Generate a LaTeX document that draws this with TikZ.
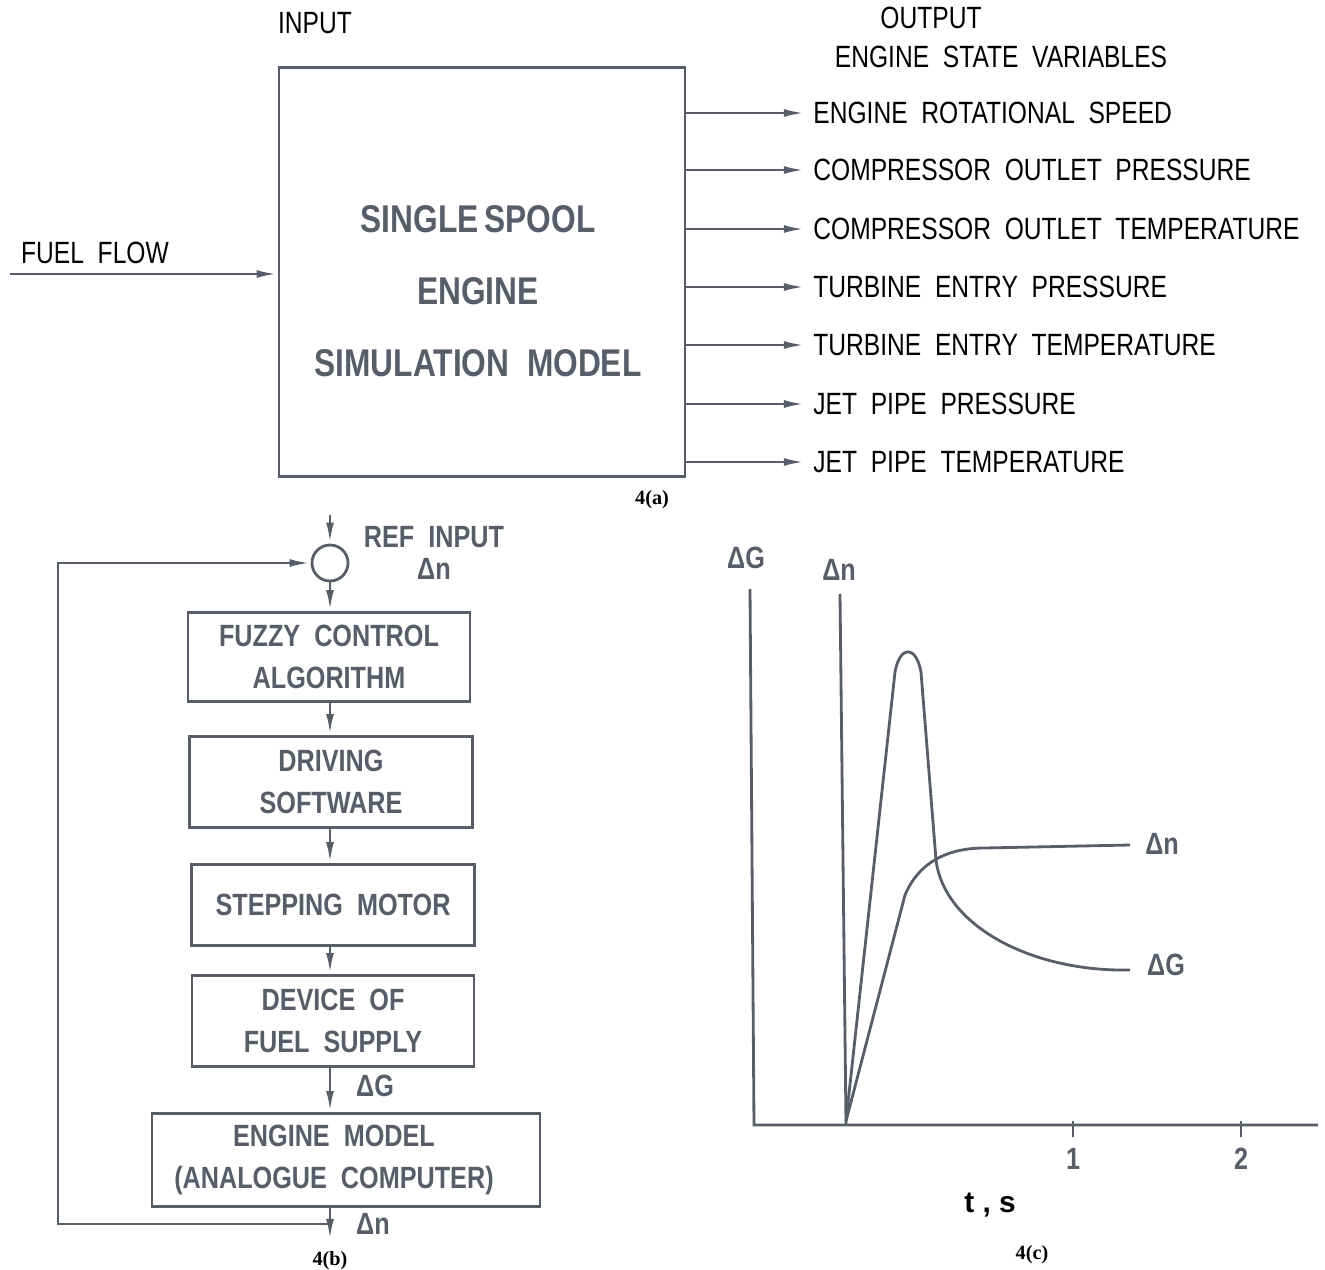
\documentclass[tikz,border=0pt]{standalone}
\usepackage{fontspec}
\setmainfont{Liberation Sans}
\newfontfamily\techfont[FakeStretch=0.8,WordSpace=2]{Liberation Sans}
\newfontfamily\techbold[FakeStretch=0.82,WordSpace=2]{Liberation Sans Bold}
\newfontfamily\capfont{Liberation Serif}
\usepackage{xcolor}
\usetikzlibrary{arrows.meta, positioning}
\definecolor{inkgray}{RGB}{88,93,106}

\tikzset{
  flow/.style={-{Latex[length=12pt,width=4.5pt]}},
  lbl/.style={font=\techfont\fontsize{17.5}{21}\selectfont, inner sep=2pt},
  glbl/.style={font=\techbold\fontsize{17.5}{21}\selectfont, inner sep=2pt},
  block/.style={draw, align=center, font=\techbold\fontsize{17.5}{24}\selectfont},
  figcap/.style={font=\capfont\bfseries\fontsize{11.5}{13}\selectfont, text=black}
}

\begin{document}
\begin{tikzpicture}[x=0.02cm, y=-0.02cm, line width=1.6pt, color=inkgray]
\useasboundingbox (0,0) rectangle (1325,1270);

% 4(a)
\node[lbl, text=black] (inlbl) at (315,23) {INPUT};
\node[draw, minimum width=231pt, minimum height=233pt] (engsim) at (482,272) {};
\node[font=\techbold\fontsize{22}{41}\selectfont, align=center] (engsimtxt) at (478,291) {SINGLE\hspace{0.15em}SPOOL\\ENGINE\\SIMULATION MODEL};
\node[lbl, text=black] (fuellbl) at (95,253) {FUEL FLOW};
\coordinate (fuelin) at (10,274);
\draw[flow] (fuelin) -- (fuelin -| engsim.west);
\node[lbl, text=black] (outlbl) at (931,18) {OUTPUT};
\node[lbl, text=black] (statelbl) at (1001,57) {ENGINE STATE VARIABLES};
\foreach \k/\y/\txt in {1/113/ENGINE ROTATIONAL SPEED, 2/170/COMPRESSOR OUTLET PRESSURE,
    3/229/COMPRESSOR OUTLET TEMPERATURE, 4/287/TURBINE ENTRY PRESSURE,
    5/345/TURBINE ENTRY TEMPERATURE, 6/404/JET PIPE PRESSURE, 7/462/JET PIPE TEMPERATURE} {
  \node[lbl, text=black, anchor=west, inner sep=4pt] (out\k) at (805,\y) {\txt};
  \draw[flow] (engsim.east |- out\k.west) -- (out\k.west);
}
\node[figcap] (capa) at (652,500) {4(a)};

% 4(b)
\node[draw, circle, minimum size=20.5pt, inner sep=0pt] (sum) at (330,563) {};
\coordinate (refin) at (330,515);
\node[glbl, align=center, font=\techbold\fontsize{17.5}{18}\selectfont] (reflbl) at (434,553) {REF INPUT\\Δn};
\node[block, minimum width=160.5pt, minimum height=50.6pt] (fuzzy) at (329,657) {FUZZY CONTROL\\ALGORITHM};
\node[block, minimum width=161pt, minimum height=51.8pt] (driving) at (331,782) {DRIVING\\SOFTWARE};
\node[block, minimum width=161pt, minimum height=46pt] (stepper) at (333,905) {STEPPING MOTOR};
\node[block, minimum width=160.5pt, minimum height=51.8pt] (fuelsup) at (333,1021) {DEVICE OF\\FUEL SUPPLY};
\node[block, minimum width=220.8pt, minimum height=52.9pt] (engmodel) at (346,1160) {};
\node[block, draw=none] (engmodeltxt) at (334,1160) {ENGINE MODEL\\(ANALOGUE COMPUTER)};
\draw[flow] (refin) -- (sum.north);
\draw[flow] (sum) -- (sum |- fuzzy.north);
\draw[flow] (sum |- fuzzy.south) -- (sum |- driving.north);
\draw[flow] (sum |- driving.south) -- (sum |- stepper.north);
\draw[flow] (sum |- stepper.south) -- (sum |- fuelsup.north);
\draw[flow] (sum |- fuelsup.south) -- (sum |- engmodel.north);
\node[glbl] (dglbl) at (375,1086) {ΔG};
\coordinate (nout) at (330,1240);
\coordinate (tap) at (330,1224);
\draw[flow] (sum |- engmodel.south) -- (nout);
\draw[flow] (tap) -- ++(-272,0) |- (sum.west);
\node[glbl] (dnlbl) at (373,1224) {Δn};
\node[figcap] (capb) at (330,1261) {4(b)};

% 4(c)
\draw (750,589) -- (754,1125) -- (1318,1125);
\draw (840,594) -- (846,1124);
\node[glbl] (axg) at (746,558) {ΔG};
\node[glbl] (axn) at (839,570) {Δn};
\foreach \x/\l in {1073/1, 1241/2} {
  \draw (\x,1121) -- (\x,1137);
  \node[glbl] (tick\l) at (\x,1159) {\l};
}
\draw[line join=round] (846,1121) -- (895,672) .. controls (900,645) and (916,645) .. (921,672)
  -- (936,860) .. controls (944,925) and (1030,972) .. (1130,970);
\draw[line join=round] (846,1121) -- (905,895) .. controls (920,860) and (950,848) .. (985,848) -- (1130,845);
\node[glbl] (gend) at (1166,965) {ΔG};
\node[glbl] (nend) at (1162,844) {Δn};
\node[font=\bfseries\fontsize{17}{20}\selectfont, text=black] (tslbl) at (990,1205) {t , s};
\node[figcap] (capc) at (1032,1255) {4(c)};
\end{tikzpicture}
\end{document}
